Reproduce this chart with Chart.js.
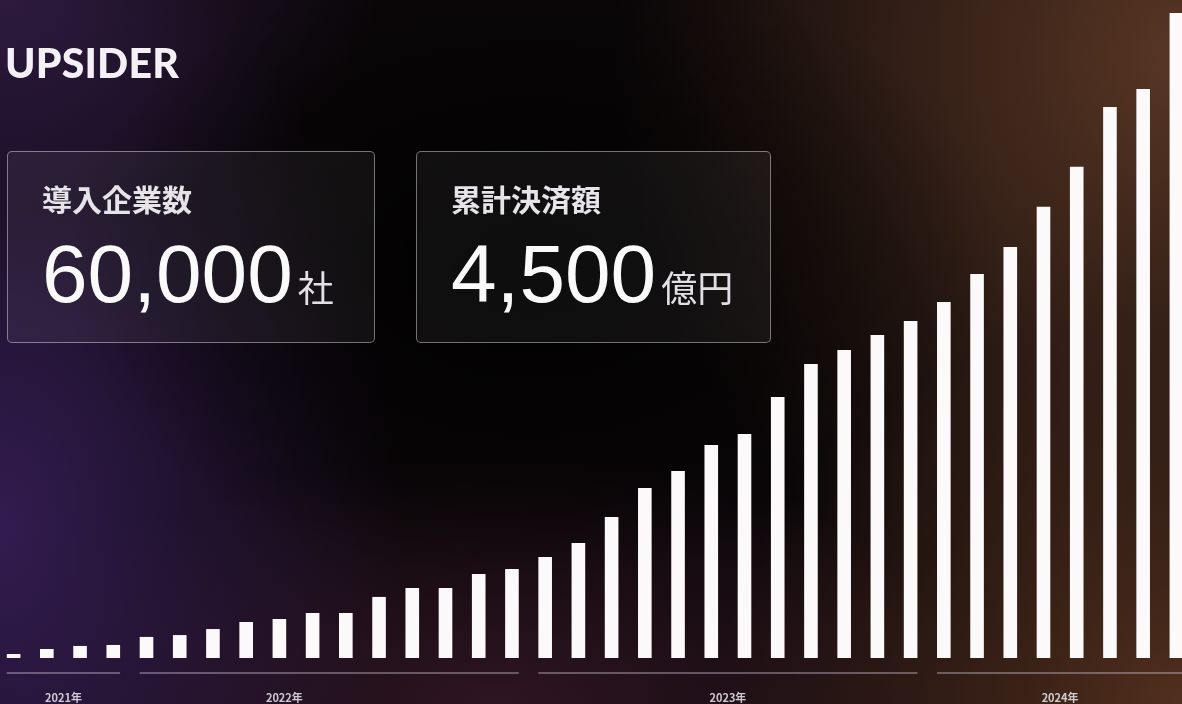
<!DOCTYPE html>
<html>
<head>
<meta charset="utf-8">
<script src="https://cdn.jsdelivr.net/npm/chart.js@4.4.1/dist/chart.umd.min.js"></script>
<style>
  html,body{margin:0;padding:0;width:1182px;height:704px;overflow:hidden;}
  body{
    position:relative;
    background-color:#0a0608;
    background-image:
      radial-gradient(ellipse 40% 45% at 45% 38%, rgba(0,0,0,0.9) 0%, rgba(0,0,0,0) 100%),
      radial-gradient(ellipse 34% 90% at 0% 75%, rgba(55,30,88,0.9) 0%, rgba(55,30,88,0) 100%),
      radial-gradient(ellipse 32% 30% at 0% 0%, rgba(48,28,64,0.9) 0%, rgba(48,28,64,0) 100%),
      radial-gradient(ellipse 48% 85% at 100% 8%, rgba(88,54,36,1) 0%, rgba(88,54,36,0) 100%),
      radial-gradient(ellipse 40% 55% at 100% 100%, rgba(90,52,32,0.9) 0%, rgba(90,52,32,0) 100%),
      radial-gradient(ellipse 45% 35% at 42% 100%, rgba(58,26,42,0.75) 0%, rgba(58,26,42,0) 100%);
  }
  #wrap{position:absolute;left:-3px;top:0;width:1196px;height:704px;}
  .logo{position:absolute;left:5px;top:42px;font-family:Lato,"Liberation Sans",Arial,sans-serif;font-weight:900;
        font-size:41px;line-height:1;letter-spacing:0.2px;color:#f4f0f6;z-index:3;}
  .box{position:absolute;top:151px;height:192px;border:1px solid rgba(255,255,255,0.42);border-radius:5px;
       background:rgba(255,255,255,0.055);z-index:2;box-sizing:border-box;}
  .box .head{position:absolute;left:34px;top:31px;font-family:"Noto Sans CJK JP",sans-serif;font-weight:700;
       font-size:30px;line-height:1;color:#e6e4e8;}
  .box .num{position:absolute;left:34px;top:81px;white-space:nowrap;line-height:1;}
  .box .num .v{font-family:"Liberation Sans",Arial,sans-serif;font-size:82px;color:#fbfafb;}
  .box .num .u{font-family:"Noto Sans CJK JP",sans-serif;font-size:36px;color:#e2e0e4;margin-left:5px;}
</style>
</head>
<body>
<div class="logo">UPSIDER</div>
<div class="box" style="left:7px;width:368px;">
  <div class="head">導入企業数</div>
  <div class="num"><span class="v">60,000</span><span class="u">社</span></div>
</div>
<div class="box" style="left:416px;width:355px;">
  <div class="head">累計決済額</div>
  <div class="num"><span class="v">4,500</span><span class="u">億円</span></div>
</div>
<div id="wrap"><canvas id="c"></canvas></div>
<script>
// Categories (months) and series values
const months = [
  '2021-09','2021-10','2021-11','2021-12',
  '2022-01','2022-02','2022-03','2022-04','2022-05','2022-06','2022-07','2022-08','2022-09','2022-10','2022-11','2022-12',
  '2023-01','2023-02','2023-03','2023-04','2023-05','2023-06','2023-07','2023-08','2023-09','2023-10','2023-11','2023-12',
  '2024-01','2024-02','2024-03','2024-04','2024-05','2024-06','2024-07','2024-08'
];
const values = [
  28, 63, 84, 91,
  147, 160, 202, 251, 272, 314, 314, 426, 488, 488, 586, 621,
  705, 802, 984, 1186, 1305, 1486, 1563, 1821, 2051, 2149, 2254, 2351,
  2484, 2679, 2867, 3147, 3426, 3844, 3970, 4500
];
const yearLabels = ['2021年','2022年','2023年','2024年'];

const yearGroups = {
  id: 'yearGroups',
  afterDraw(chart, args, opts) {
    const ctx = chart.ctx;
    const xs = chart.scales.x;
    const meta = chart.getDatasetMeta(0);
    const bottom = chart.chartArea.bottom;
    yearLabels.forEach((lab) => {
      const yr = lab.slice(0, 4);
      const idx = months.map((m, i) => m.startsWith(yr) ? i : -1).filter(i => i >= 0);
      const first = meta.data[idx[0]], last = meta.data[idx[idx.length - 1]];
      const x0 = first.x - first.width / 2, x1 = last.x + last.width / 2;
      ctx.save();
      ctx.strokeStyle = opts.lineColor;
      ctx.lineWidth = 1.6;
      ctx.beginPath();
      ctx.moveTo(x0, bottom + opts.lineGap);
      ctx.lineTo(x1, bottom + opts.lineGap);
      ctx.stroke();
      const shift = (opts.labelShift[lab] || 0);
      const cx = xs.getPixelForValue((idx[0] + idx[idx.length - 1]) / 2 + shift);
      ctx.fillStyle = opts.labelColor;
      ctx.font = '700 11px "Noto Sans CJK JP", sans-serif';
      ctx.textAlign = 'center';
      ctx.textBaseline = 'middle';
      ctx.fillText(lab, cx, bottom + opts.labelGap);
      ctx.restore();
    });
  }
};

new Chart(document.getElementById('c'), {
  type: 'bar',
  data: {
    labels: months,
    datasets: [{
      data: values,
      backgroundColor: '#fbf9f9',
      borderWidth: 0,
      barPercentage: 0.41,
      categoryPercentage: 1.0
    }]
  },
  options: {
    responsive: true,
    maintainAspectRatio: false,
    animation: false,
    layout: { padding: { left: 0, right: 0, top: 0, bottom: 46 } },
    plugins: {
      legend: { display: false },
      tooltip: { enabled: false },
      yearGroups: {
        lineColor: 'rgba(215,205,225,0.5)',
        labelColor: 'rgba(225,220,228,0.9)',
        lineGap: 15,
        labelGap: 40,
        labelShift: { '2022年': -1.35 }
      }
    },
    scales: {
      x: { display: false, offset: true, grid: { display: false } },
      y: { display: false, min: 0, max: 4590, grid: { display: false } }
    }
  },
  plugins: [yearGroups]
});
</script>
</body>
</html>
